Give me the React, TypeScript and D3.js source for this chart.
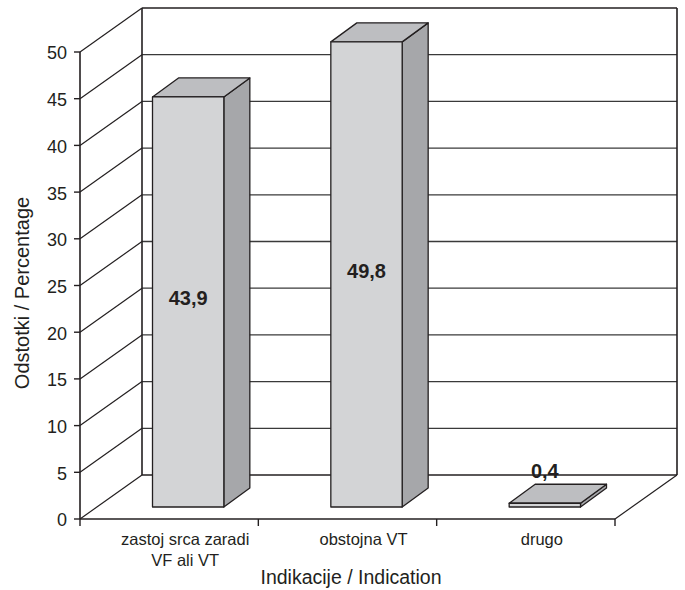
import React from "react";
import * as d3 from "d3";

// Chart data
const categories: string[][] = [["zastoj srca zaradi", "VF ali VT"], ["obstojna VT"], ["drugo"]];
const values: number[] = [43.9, 49.8, 0.4];
const valueLabels: string[] = ["43,9", "49,8", "0,4"];
const yTicks: number[] = [0, 5, 10, 15, 20, 25, 30, 35, 40, 45, 50];
const yTitle = "Odstotki / Percentage";
const xTitle = "Indikacije / Indication";

const W = 685;
const H = 590;
const FONT = "'Liberation Sans', Arial, Helvetica, sans-serif";

// 3D frame geometry
const FX0 = 80; // front-left x of the floor
const FX1 = 615; // front-right x of the floor
const DX = 62; // wall depth, horizontal
const DY = -44; // wall depth, vertical
const BAR_OFF_X = 19; // bar front face inset into the floor
const BAR_OFF_Y = -12;
const BAR_DX = 26; // bar depth
const BAR_DY = -19;

const INK = "#231f20";
const GRID = "#3a3a3a";
const FRONT = "#d3d4d6";
const SIDE = "#a6a7aa";
const TOP = "#bdbec1";

export default function App() {
  const y = d3.scaleLinear().domain([0, 50]).range([519, 52]);
  const x = d3
    .scaleBand<number>()
    .domain(values.map((_, i) => i))
    .range([FX0, FX1])
    .paddingInner(0.6)
    .paddingOuter(0.3);
  const step = x.step();
  const bw = x.bandwidth();
  const tickXs = [0, 1, 2, 3].map((i) => FX0 + i * step);

  const pts = (p: number[][]) => p.map((q) => q.join(",")).join(" ");

  return (
    <svg
      width={W}
      height={H}
      viewBox={`0 0 ${W} ${H}`}
      style={{ position: "absolute", left: 0, top: 0, background: "#fff" }}
    >
      <rect x={0} y={0} width={W} height={H} fill="#fff" />

      {/* back wall gridlines */}
      {yTicks.map((t) => (
        <line
          key={"g" + t}
          x1={FX0 + DX}
          x2={FX1 + DX}
          y1={y(t) + DY}
          y2={y(t) + DY}
          stroke={t === 0 || t === 50 ? INK : GRID}
          strokeWidth={t === 0 || t === 50 ? 1.6 : 1.3}
        />
      ))}
      {/* side wall diagonals */}
      {yTicks.map((t) => (
        <line
          key={"d" + t}
          x1={FX0}
          y1={y(t)}
          x2={FX0 + DX}
          y2={y(t) + DY}
          stroke={INK}
          strokeWidth={1.2}
        />
      ))}
      {/* back wall edges */}
      <line x1={FX0 + DX} x2={FX0 + DX} y1={y(0) + DY} y2={y(50) + DY} stroke={INK} strokeWidth={1.6} />
      <line x1={FX1 + DX} x2={FX1 + DX} y1={y(0) + DY} y2={y(50) + DY} stroke={INK} strokeWidth={1.6} />
      {/* floor right edge */}
      <line x1={FX1} y1={y(0)} x2={FX1 + DX} y2={y(0) + DY} stroke={INK} strokeWidth={1.2} />

      {/* value axis */}
      <line x1={FX0} x2={FX0} y1={y(0)} y2={y(50)} stroke={INK} strokeWidth={1.6} />
      {yTicks.map((t) => (
        <g key={"t" + t}>
          <line x1={FX0 - 6} x2={FX0} y1={y(t)} y2={y(t)} stroke={INK} strokeWidth={1.4} />
          <text
            x={67}
            y={y(t) + 1}
            dy="0.36em"
            textAnchor="end"
            fontFamily={FONT}
            fontSize={18}
            fill={INK}
          >
            {t}
          </text>
        </g>
      ))}

      {/* category axis */}
      <line x1={FX0} x2={FX1} y1={y(0)} y2={y(0)} stroke={INK} strokeWidth={1.6} />
      {tickXs.map((tx, i) => (
        <line key={"c" + i} x1={tx} x2={tx} y1={y(0)} y2={y(0) + 7} stroke={INK} strokeWidth={1.4} />
      ))}
      {categories.map((lines, i) => {
        const cx = FX0 + (i + 0.5) * step + 16;
        return (
          <text
            key={"cl" + i}
            x={cx}
            y={545}
            textAnchor="middle"
            fontFamily={FONT}
            fontSize={16.5}
            fill={INK}
          >
            {lines.map((l, j) => (
              <tspan key={j} x={cx} dy={j === 0 ? 0 : 21}>
                {l}
              </tspan>
            ))}
          </text>
        );
      })}

      {/* bars */}
      {values.map((v, i) => {
        const xl = (x(i) as number) + BAR_OFF_X;
        const xr = xl + bw;
        const yb = y(0) + BAR_OFF_Y;
        const yt = y(v) + BAR_OFF_Y;
        const front = [[xl, yt], [xr, yt], [xr, yb], [xl, yb]];
        const side = [[xr, yt], [xr + BAR_DX, yt + BAR_DY], [xr + BAR_DX, yb + BAR_DY], [xr, yb]];
        const top = [[xl, yt], [xl + BAR_DX, yt + BAR_DY], [xr + BAR_DX, yt + BAR_DY], [xr, yt]];
        const tall = yb - yt >= 30;
        const ly = tall ? (yt + yb) / 2 - 4 : yt + BAR_DY - 13;
        return (
          <g key={"b" + i}>
            <polygon points={pts(side)} fill={SIDE} stroke={INK} strokeWidth={1.3} strokeLinejoin="round" />
            <polygon points={pts(top)} fill={TOP} stroke={INK} strokeWidth={1.3} strokeLinejoin="round" />
            <polygon points={pts(front)} fill={FRONT} stroke={INK} strokeWidth={1.3} strokeLinejoin="round" />
            <text
              x={(xl + xr) / 2}
              y={ly}
              dy="0.36em"
              textAnchor="middle"
              fontFamily={FONT}
              fontSize={20}
              fontWeight="bold"
              fill={INK}
            >
              {valueLabels[i]}
            </text>
          </g>
        );
      })}

      {/* axis titles */}
      <text
        transform={`translate(29,${293}) rotate(-90)`}
        textAnchor="middle"
        fontFamily={FONT}
        fontSize={20}
        fill={INK}
      >
        {yTitle}
      </text>
      <text x={351} y={584} textAnchor="middle" fontFamily={FONT} fontSize={19.5} fill={INK}>
        {xTitle}
      </text>
    </svg>
  );
}
